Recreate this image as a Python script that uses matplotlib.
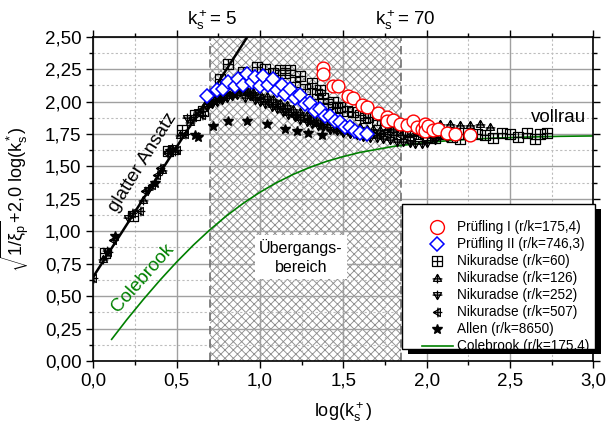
import matplotlib
matplotlib.use("Agg")
import matplotlib.pyplot as plt
from matplotlib.path import Path
from matplotlib.patches import Rectangle
from matplotlib.lines import Line2D
from matplotlib.ticker import MultipleLocator, FuncFormatter

plt.rcParams['font.family'] = ['Liberation Sans', 'DejaVu Sans']
plt.rcParams['mathtext.fontset'] = 'custom'
plt.rcParams['mathtext.rm'] = 'Liberation Sans'
plt.rcParams['mathtext.it'] = 'Liberation Sans:italic'
plt.rcParams['mathtext.sf'] = 'Liberation Sans'
plt.rcParams['mathtext.default'] = 'regular'
plt.rcParams['hatch.linewidth'] = 0.65

# ---------------- data ----------------
# Prüfling I (r/k = 175,4)
p1_x = [1.38, 1.38, 1.44, 1.47, 1.53, 1.56, 1.61, 1.64, 1.71, 1.76, 1.76, 1.80, 1.84,
        1.88, 1.92, 1.94, 1.97, 1.99, 1.99, 2.01, 2.04, 2.07, 2.12, 2.17, 2.26]
p1_y = [2.26, 2.21, 2.12, 2.12, 2.04, 2.03, 1.97, 1.96, 1.91, 1.88, 1.85, 1.86, 1.83,
        1.82, 1.85, 1.80, 1.79, 1.83, 1.77, 1.81, 1.78, 1.79, 1.76, 1.75, 1.74]

# Prüfling II (r/k = 746,3)
p2_x = [0.68, 0.74, 0.78, 0.81, 0.85, 0.87, 0.90, 0.92, 0.95, 0.97, 1.00, 1.02, 1.05,
        1.08, 1.10, 1.13, 1.15, 1.18, 1.21, 1.24, 1.27, 1.30, 1.33, 1.36, 1.39, 1.42,
        1.45, 1.48, 1.51, 1.54, 1.57, 1.60, 1.64]
p2_y = [2.04, 2.09, 2.10, 2.15, 2.12, 2.17, 2.13, 2.21, 2.15, 2.19, 2.12, 2.20, 2.13,
        2.17, 2.09, 2.13, 2.06, 2.10, 2.03, 2.05, 1.98, 1.99, 1.93, 1.94, 1.89, 1.89,
        1.85, 1.84, 1.80, 1.80, 1.77, 1.76, 1.75]

# Nikuradse r/k = 60
n60_x = [0.07, 0.24, 0.45, 0.53, 0.61, 0.66, 0.76, 0.81, 0.86, 0.90, 0.98, 1.03, 1.08,
         1.12, 1.15, 1.18, 1.21, 1.24, 1.27, 1.31, 1.34, 1.36, 1.38, 1.41, 1.44, 1.46,
         1.48, 1.52, 1.56, 1.60, 1.63, 1.65, 1.70, 1.75, 1.80, 1.85, 1.90, 1.95, 2.00,
         2.05, 2.10, 2.15, 2.20, 2.25, 2.30, 2.35, 2.40, 2.45, 2.50, 2.55, 2.60, 2.65,
         2.68, 2.72]
n60_y = [0.83, 1.12, 1.62, 1.78, 1.90, 1.93, 2.17, 2.29, 2.14, 2.23, 2.27, 2.25, 2.22,
         2.24, 2.22, 2.24, 2.15, 2.20, 2.10, 2.14, 2.06, 2.09, 2.03, 1.98, 2.00, 1.95,
         1.96, 1.93, 1.92, 1.90, 1.87, 1.88, 1.86, 1.82, 1.80, 1.78, 1.77, 1.75, 1.73,
         1.72, 1.75, 1.73, 1.71, 1.76, 1.75, 1.74, 1.72, 1.76, 1.75, 1.73, 1.76, 1.71,
         1.75, 1.76]

# Nikuradse r/k = 126
n126_x = [0.06, 0.30, 0.41, 0.49, 0.52, 0.58, 0.66, 0.70, 0.73, 0.76, 0.80, 0.84, 0.88,
          0.92, 0.96, 1.00, 1.04, 1.08, 1.12, 1.16, 1.20, 1.24, 1.28, 1.32, 1.36, 1.40,
          1.44, 1.48, 1.52, 1.56, 1.60, 1.64, 1.68, 1.72, 1.76, 1.80, 1.84, 1.88, 1.95,
          2.02, 2.08, 2.14, 2.20, 2.26, 2.32, 2.38]
n126_y = [0.79, 1.24, 1.47, 1.62, 1.74, 1.84, 1.95, 2.00, 2.02, 2.03, 2.05, 2.06, 2.07,
          2.08, 2.07, 2.06, 2.04, 2.02, 1.99, 1.97, 1.94, 1.92, 1.90, 1.88, 1.86, 1.85,
          1.84, 1.83, 1.82, 1.81, 1.80, 1.79, 1.79, 1.78, 1.79, 1.79, 1.80, 1.80, 1.81,
          1.80, 1.83, 1.83, 1.82, 1.82, 1.83, 1.80]

# Nikuradse r/k = 252
n252_x = [0.08, 0.21, 0.33, 0.47, 0.56, 0.63, 0.68, 0.71, 0.74, 0.77, 0.80, 0.83, 0.86,
          0.91, 0.94, 0.97, 1.00, 1.03, 1.07, 1.10, 1.14, 1.17, 1.21, 1.24, 1.28, 1.31,
          1.35, 1.38, 1.42, 1.46, 1.50, 1.54, 1.58, 1.62, 1.66, 1.70, 1.74, 1.78, 1.82,
          1.86, 1.90, 1.93, 1.97, 2.00, 2.05, 2.12]
n252_y = [0.85, 1.10, 1.32, 1.64, 1.87, 1.92, 1.96, 1.98, 2.00, 2.01, 2.03, 2.04, 2.05,
          2.03, 2.04, 2.01, 2.00, 1.98, 1.96, 1.94, 1.92, 1.90, 1.88, 1.86, 1.84, 1.83,
          1.81, 1.80, 1.78, 1.77, 1.76, 1.75, 1.74, 1.73, 1.72, 1.72, 1.71, 1.70, 1.69,
          1.69, 1.68, 1.67, 1.67, 1.68, 1.70, 1.72]

# Nikuradse r/k = 507
n507_x = [0.00, 0.09, 0.12, 0.23, 0.28, 0.31, 0.35, 0.38, 0.40, 0.44, 0.50, 0.55, 0.60,
          0.65, 0.69, 0.72, 0.75, 0.78, 0.83, 0.88, 0.92, 0.95, 1.00, 1.05, 1.09, 1.13,
          1.17, 1.20, 1.24, 1.28, 1.32, 1.36, 1.40, 1.44, 1.48, 1.52, 1.56, 1.60, 1.64,
          1.68, 1.72, 1.76, 1.80, 1.84, 1.88, 1.92, 1.96, 2.00, 2.04, 2.08]
n507_y = [0.64, 0.84, 0.93, 1.14, 1.16, 1.31, 1.36, 1.43, 1.49, 1.60, 1.63, 1.75, 1.88,
          1.90, 1.99, 2.02, 2.04, 2.05, 2.07, 2.08, 2.07, 2.05, 2.03, 2.00, 1.98, 1.95,
          1.92, 1.90, 1.88, 1.86, 1.84, 1.82, 1.80, 1.79, 1.78, 1.77, 1.76, 1.76, 1.75,
          1.76, 1.75, 1.75, 1.74, 1.74, 1.73, 1.74, 1.74, 1.75, 1.73, 1.74]

# Allen r/k = 8650
allen_x = [0.13, 0.37, 0.46, 0.61, 0.63, 0.72, 0.81, 0.92, 1.04, 1.15, 1.22, 1.29, 1.37]
allen_y = [0.96, 1.37, 1.62, 1.74, 1.73, 1.81, 1.85, 1.85, 1.83, 1.79, 1.77, 1.755, 1.74]

# Colebrook (r/k = 175,4)
cb_x = [0.11, 0.2, 0.3, 0.4, 0.5, 0.6, 0.7, 0.8, 0.9, 1.0, 1.1, 1.2, 1.3, 1.4, 1.5,
        1.6, 1.8, 2.0, 2.2, 2.4, 2.6, 2.8, 3.0]
cb_y = [0.167, 0.317, 0.474, 0.623, 0.763, 0.893, 1.012, 1.120, 1.216, 1.301, 1.375,
        1.439, 1.493, 1.539, 1.576, 1.608, 1.654, 1.685, 1.705, 1.718, 1.726, 1.732, 1.735]

# hydraulically smooth law
smooth_x = [0.0, 0.925]
smooth_y = [0.65, 2.50]

# transition bounds log(ks+) for ks+ = 5 and 70
trans_lo = 0.699
trans_hi = 1.845

# ---------------- marker shapes ----------------
def marker_path(outline, strokes):
    verts, codes = [], []
    verts += outline + [outline[0]]
    codes += [Path.MOVETO] + [Path.LINETO] * (len(outline) - 1) + [Path.CLOSEPOLY]
    for a, b in strokes:
        verts += [a, b]
        codes += [Path.MOVETO, Path.LINETO]
    return Path(verts, codes)

m_sq = marker_path([(-1, -1), (1, -1), (1, 1), (-1, 1)],
                   [((0, -1), (0, 1)), ((-1, 0), (1, 0))])
m_up = marker_path([(-1, -0.7), (1, -0.7), (0, 1)],
                   [((0, -1.2), (0, 1)), ((-1.2, -0.1), (1.2, -0.1))])
m_dn = marker_path([(-1, 0.7), (1, 0.7), (0, -1)],
                   [((0, 1.2), (0, -1)), ((-1.2, 0.1), (1.2, 0.1))])
m_lt = marker_path([(0.7, -1), (0.7, 1), (-1, 0)],
                   [((1.2, 0), (-1, 0)), ((0.1, -1.2), (0.1, 1.2))])

# ---------------- figure ----------------
fig = plt.figure(figsize=(6.14, 4.26), dpi=100)
ax = fig.add_axes([0.15196, 0.15258, 0.8143, 0.7613])
ax.set_xlim(0, 3.0)
ax.set_ylim(0, 2.5)
ax.set_axisbelow(True)

ax.axvspan(trans_lo, trans_hi, facecolor='white', edgecolor='#8f8f8f', hatch='xxxx',
           lw=0, zorder=0.2)
for xv in (trans_lo, trans_hi):
    ax.axvline(xv, color='#707070', ls=(0, (5, 3)), lw=1.2, zorder=0.6)

ax.xaxis.set_major_locator(MultipleLocator(0.5))
ax.xaxis.set_minor_locator(MultipleLocator(0.25))
ax.yaxis.set_major_locator(MultipleLocator(0.25))
ax.yaxis.set_minor_locator(MultipleLocator(0.125))
ax.xaxis.set_major_formatter(FuncFormatter(lambda v, p: f'{v:.1f}'.replace('.', ',')))
ax.yaxis.set_major_formatter(FuncFormatter(lambda v, p: f'{v:.2f}'.replace('.', ',')))
ax.grid(which='major', color='#a0a0a0', lw=1.0, ls='-')
ax.grid(which='minor', color='#bdbdbd', lw=0.8, ls=(0, (2, 2)))
ax.tick_params(which='both', direction='out', top=True, right=True,
               labeltop=False, labelright=False, width=1.0, colors='black')
ax.tick_params(which='major', length=5, labelsize=13.5)
ax.tick_params(which='minor', length=3)
for sp in ax.spines.values():
    sp.set_linewidth(1.2)

ax.plot(smooth_x, smooth_y, color='black', lw=1.8, zorder=2)
ax.plot(cb_x, cb_y, color='#008000', lw=1.2, zorder=2.1)

blk = dict(ls='none', mfc='none', mec='black', mew=0.9, ms=7, zorder=2.5)
ax.plot(n60_x, n60_y, marker=m_sq, **blk)
ax.plot(n126_x, n126_y, marker=m_up, **blk)
ax.plot(n252_x, n252_y, marker=m_dn, **blk)
ax.plot(n507_x, n507_y, marker=m_lt, **blk)
ax.plot(allen_x, allen_y, ls='none', marker='*', color='black', ms=7.5, zorder=2.6)
ax.plot(p2_x, p2_y, ls='none', marker='D', mfc='white', mec='#0000ff', mew=1.1,
        ms=7.2, zorder=3)
ax.plot(p1_x, p1_y, ls='none', marker='o', mfc='white', mec='#ff0000', mew=1.0,
        ms=9.2, zorder=3.1)

# annotations
ax.text(0.295, 1.53, 'glatter Ansatz', rotation=58, ha='center', va='center',
        rotation_mode='anchor', fontsize=13.5, zorder=4)
ax.text(0.30, 0.64, 'Colebrook', rotation=48.5, ha='center', va='center',
        rotation_mode='anchor', fontsize=13.5, color='#008000', zorder=4)
ax.text(1.245, 0.80, 'Übergangs-\nbereich', ha='center', va='center', fontsize=11.5,
        linespacing=1.3, zorder=4,
        bbox=dict(facecolor='white', edgecolor='none', pad=3))
ax.text(2.79, 1.88, 'vollrau', ha='center', va='center', fontsize=13.5, zorder=4)

xtr = ax.get_xaxis_transform()
ax.text(0.71, 1.052, r'k$_s^+$= 5', transform=xtr, ha='center', va='center',
        fontsize=13.5, clip_on=False)
ax.text(1.87, 1.052, r'k$_s^+$= 70', transform=xtr, ha='center', va='center',
        fontsize=13.5, clip_on=False)

ax.set_xlabel(r'log(k$_s^+$)', fontsize=13)
ax.xaxis.set_label_coords(0.5, -0.12)
ax.set_ylabel(r'$\sqrt{1/\xi_p}$+2,0 log(k$_s^*$)', fontsize=13)
ax.yaxis.set_label_coords(-0.125, 0.5)

# legend with framed box and solid shadow
W, H = 614.0, 426.0
box = (402 / W, 1 - 349.3 / H, 193 / W, 145.3 / H)
shadow = Rectangle((box[0] + 6 / W, box[1] - 5 / H), box[2], box[3],
                   transform=fig.transFigure, facecolor='black', edgecolor='none',
                   clip_on=False, zorder=4.4)
frame = Rectangle(box[:2], box[2], box[3], transform=fig.transFigure,
                  facecolor='white', edgecolor='black', lw=1.0,
                  clip_on=False, zorder=4.5)
ax.add_patch(shadow)
ax.add_patch(frame)

handles = [
    Line2D([], [], ls='none', marker='o', mfc='white', mec='#ff0000', mew=1.0, ms=10),
    Line2D([], [], ls='none', marker='D', mfc='white', mec='#0000ff', mew=1.1, ms=7.5),
    Line2D([], [], ls='none', marker=m_sq, mfc='none', mec='black', mew=0.9, ms=7),
    Line2D([], [], ls='none', marker=m_up, mfc='none', mec='black', mew=0.9, ms=7),
    Line2D([], [], ls='none', marker=m_dn, mfc='none', mec='black', mew=0.9, ms=7),
    Line2D([], [], ls='none', marker=m_lt, mfc='none', mec='black', mew=0.9, ms=7),
    Line2D([], [], ls='none', marker='*', color='black', ms=7.5),
    Line2D([], [], color='#008000', lw=1.2),
]
labels = ['Prüfling I (r/k=175,4)', 'Prüfling II (r/k=746,3)',
          'Nikuradse (r/k=60)', 'Nikuradse (r/k=126)', 'Nikuradse (r/k=252)',
          'Nikuradse (r/k=507)', 'Allen (r/k=8650)', 'Colebrook (r/k=175,4)']
leg = ax.legend(handles, labels, loc='upper left',
                bbox_to_anchor=(421.7 / W, 1 - 220.5 / H),
                bbox_transform=fig.transFigure, frameon=False, fontsize=9.8,
                handlelength=2.3, handletextpad=0.3, labelspacing=0.22,
                borderpad=0, borderaxespad=0)
leg.set_zorder(5)

fig.savefig('out.png', dpi=100)
